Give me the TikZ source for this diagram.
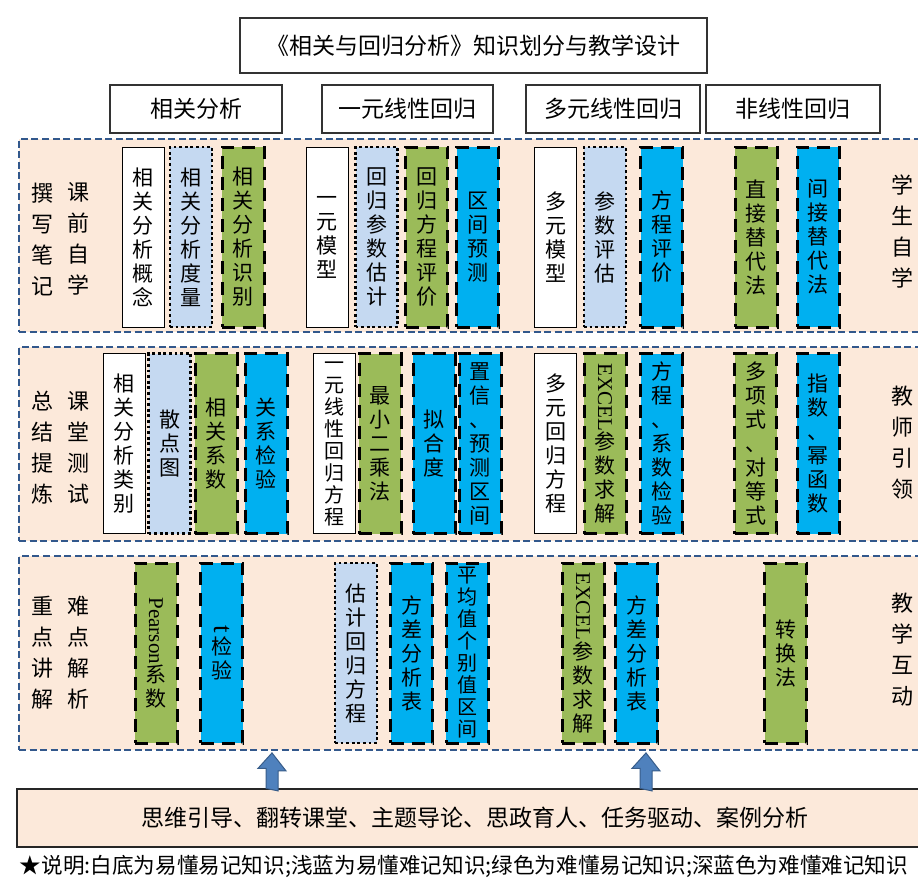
\documentclass[tikz,border=0pt]{standalone}
\usepackage{fontspec}
\usepackage{graphicx}
\setmainfont{Liberation Serif}
\newfontfamily\cjk{Noto Sans CJK SC}
\newfontfamily\lat{Liberation Serif}
\definecolor{peach}{RGB}{252,233,218}
\definecolor{lblue}{RGB}{197,217,241}
\definecolor{lgreen}{RGB}{155,187,89}
\definecolor{dblue}{RGB}{0,176,240}
\definecolor{rowblue}{RGB}{50,88,140}
\definecolor{arrfill}{RGB}{79,129,189}
\definecolor{arrdraw}{RGB}{56,93,138}
\newcommand{\rlat}[1]{\rotatebox{-90}{\lat #1}}
\begin{document}
\begin{tikzpicture}[x=1pt,y=-1pt,
  base/.style={rectangle, minimum width=42pt, minimum height=180pt, inner sep=0pt, align=center, font=\cjk\fontsize{21}{24}\selectfont},
  wbox/.style={base, fill=white, draw=black, line width=0.9pt},
  lbox/.style={base, fill=lblue, draw=black, line width=2.8pt, dash pattern=on 2.8pt off 2.8pt},
  gbox/.style={base, fill=lgreen, draw=black, line width=3pt, dash pattern=on 13pt off 8pt},
  dbox/.style={base, fill=dblue, draw=black, line width=3pt, dash pattern=on 13pt off 8pt},
  tight/.style={font=\cjk\fontsize{20}{22}\selectfont},
  rowbox/.style={rectangle, fill=peach, draw=rowblue, line width=1.8pt, dash pattern=on 7pt off 3.5pt, inner sep=0pt, minimum width=916pt, minimum height=194pt},
  hbox/.style={rectangle, fill=white, draw=black!80, line width=1.2pt, inner sep=0pt, minimum height=48pt, font=\cjk\fontsize{23}{26}\selectfont},
  side/.style={align=center, inner sep=0pt, font=\cjk\fontsize{22}{31}\selectfont},
  blockarr/.style={fill=arrfill, draw=arrdraw, line width=1pt},
]
\useasboundingbox (0,0) rectangle (918,881);
\fill[white] (0,0) rectangle (918,881);

% title and headers
\node[hbox, minimum width=467pt, minimum height=55pt] (title) at (473.5,45.5) {《相关与回归分析》知识划分与教学设计};
\node[hbox, minimum width=172pt] (h1) at (196,109) {相关分析};
\node[hbox, minimum width=171pt] (h2) at (407.5,109) {一元线性回归};
\node[hbox, minimum width=174pt] (h3) at (613,109) {多元线性回归};
\node[hbox, minimum width=174pt] (h4) at (793,109) {非线性回归};

% row backgrounds
\node[rowbox, minimum height=193pt] (row1) at (477,235.5) {};
\node[rowbox] (row2) at (477,444) {};
\node[rowbox] (row3) at (477,653) {};

% side labels
\node[side] (l1a) at (42,239) {撰\\写\\笔\\记};
\node[side] (l1b) at (78,239) {课\\前\\自\\学};
\node[side] (l2a) at (42,448) {总\\结\\提\\炼};
\node[side] (l2b) at (78,448) {课\\堂\\测\\试};
\node[side] (l3a) at (42,653) {重\\点\\讲\\解};
\node[side] (l3b) at (78,653) {难\\点\\解\\析};
\node[side] (r1s) at (902,232) {学\\生\\自\\学};
\node[side] (r2s) at (902,443) {教\\师\\引\\领};
\node[side] (r3s) at (902,650) {教\\学\\互\\动};

% row 1
\node[wbox] (a1) at (143,237) {相\\关\\分\\析\\概\\念};
\node[lbox] (a2) at (191,237) {相\\关\\分\\析\\度\\量};
\node[gbox] (a3) at (243,237) {相\\关\\分\\析\\识\\别};
\node[wbox] (a4) at (327,237) {一\\元\\模\\型};
\node[lbox] (a5) at (376.5,237) {回\\归\\参\\数\\估\\计};
\node[gbox] (a6) at (426.5,237) {回\\归\\方\\程\\评\\价};
\node[dbox] (a7) at (477.5,237) {区\\间\\预\\测};
\node[wbox] (a8) at (555.5,237) {多\\元\\模\\型};
\node[lbox] (a9) at (605,237) {参\\数\\评\\估};
\node[dbox] (a10) at (661.5,237) {方\\程\\评\\价};
\node[gbox] (a11) at (756,237) {直\\接\\替\\代\\法};
\node[dbox] (a12) at (818,237) {间\\接\\替\\代\\法};

% row 2
\node[wbox] (b1) at (124,443.5) {相\\关\\分\\析\\类\\别};
\node[lbox] (b2) at (169.5,443.5) {散\\点\\图};
\node[gbox] (b3) at (216,443.5) {相\\关\\系\\数};
\node[dbox] (b4) at (266,443.5) {关\\系\\检\\验};
\node[wbox, tight] (b5) at (334,443.5) {一\\元\\线\\性\\回\\归\\方\\程};
\node[gbox] (b6) at (380,443.5) {最\\小\\二\\乘\\法};
\node[dbox] (b7) at (434,443.5) {拟\\合\\度};
\node[dbox] (b8) at (480,443.5) {置\\信\\、\\预\\测\\区\\间};
\node[wbox] (b9) at (555.5,443.5) {多\\元\\回\\归\\方\\程};
\node[gbox] (b10) at (605,443.5) {\rlat{EXCEL}\\参\\数\\求\\解};
\node[dbox] (b11) at (661.5,443.5) {方\\程\\、\\系\\数\\检\\验};
\node[gbox] (b12) at (755.5,443.5) {多\\项\\式\\、\\对\\等\\式};
\node[dbox] (b13) at (818,443.5) {指\\数\\、\\幂\\函\\数};

% row 3
\node[gbox] (c1) at (156,653) {\rlat{Pearson}\\系\\数};
\node[dbox] (c2) at (221.5,653) {\rotatebox{-90}{\lat\fontsize{27}{27}\selectfont t}\\[3pt]检\\验};
\node[lbox] (c3) at (356,653) {估\\计\\回\\归\\方\\程};
\node[dbox] (c4) at (411.5,653) {方\\差\\分\\析\\表};
\node[dbox, tight] (c5) at (467,653) {平\\均\\值\\个\\别\\值\\区\\间};
\node[gbox] (c6) at (583,653) {\rlat{EXCEL}\\参\\数\\求\\解};
\node[dbox] (c7) at (636.5,653) {方\\差\\分\\析\\表};
\node[gbox] (c8) at (785.5,653) {转\\换\\法};

% bottom box
\node[rectangle, fill=peach, draw=black!85, line width=1.3pt, minimum width=915pt, minimum height=58pt, inner sep=0pt, font=\cjk\fontsize{23}{26}\selectfont] (bottom) at (474.5,818) {思维引导、翻转课堂、主题导论、思政育人、任务驱动、案例分析};

% arrows from bottom box up to row 3
\coordinate (x1) at (272,0);
\coordinate (x2) at (646,0);
\coordinate (b1s) at (bottom.north -| x1);
\coordinate (b2s) at (bottom.north -| x2);
\coordinate (t1) at (row3.south -| x1);
\coordinate (t2) at (row3.south -| x2);
\draw[blockarr] (b1s) ++(-6,0) -- ++(0,-20) -- ++(-8,0) -- ([yshift=-2pt]t1) -- ++(14,18) -- ++(-8,0) -- ++(0,20) -- cycle;
\draw[blockarr] (b2s) ++(-6,0) -- ++(0,-20) -- ++(-8,0) -- ([yshift=-2pt]t2) -- ++(14,18) -- ++(-8,0) -- ++(0,20) -- cycle;

% footnote
\node[inner sep=0pt, font=\cjk\fontsize{21.6}{24}\selectfont] (note) at (464,866) {★说明:白底为易懂易记知识;浅蓝为易懂难记知识;绿色为难懂易记知识;深蓝色为难懂难记知识};
\end{tikzpicture}
\end{document}
